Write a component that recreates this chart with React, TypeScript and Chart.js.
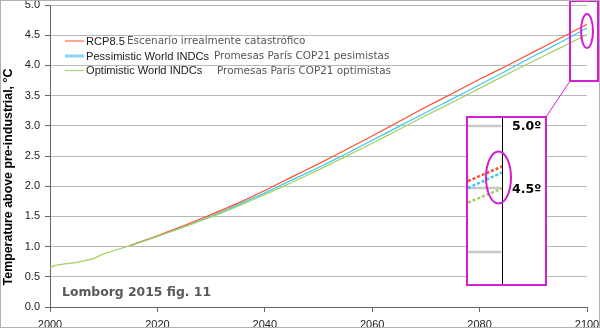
import React, { useEffect, useRef } from "react";
import { Chart, registerables } from "chart.js";
Chart.register(...registerables);

const greenYears = [2000, 2001, 2005, 2008, 2010, 2015, 2020, 2025, 2030, 2035, 2040, 2045, 2050, 2055, 2060, 2065, 2070, 2075, 2080, 2085, 2090, 2095, 2100];
const greenValues = [0.65, 0.69, 0.74, 0.8, 0.88, 1.02, 1.17, 1.33, 1.49, 1.67, 1.86, 2.06, 2.27, 2.49, 2.71, 2.94, 3.17, 3.39, 3.62, 3.85, 4.07, 4.29, 4.51];

const scenarioYears = [2015, 2020, 2025, 2030, 2035, 2040, 2045, 2050, 2055, 2060, 2065, 2070, 2075, 2080, 2085, 2090, 2095, 2100];
const redValues = [1.02, 1.18, 1.35, 1.53, 1.72, 1.93, 2.15, 2.37, 2.6, 2.83, 3.07, 3.31, 3.54, 3.77, 3.99, 4.22, 4.45, 4.68];
const blueValues = [1.02, 1.17, 1.33, 1.5, 1.69, 1.89, 2.1, 2.31, 2.53, 2.76, 2.99, 3.22, 3.45, 3.68, 3.91, 4.15, 4.38, 4.62];

const seriesNames = ["RCP8.5", "Pessimistic World INDCs", "Optimistic World INDCs"];
const seriesNotes = ["Escenario irrealmente catastrófico", "Promesas París COP21 pesimistas", "Promesas París COP21 optimistas"];
const seriesColors = ["#ff4d2e", "#3cc8f2", "#9fd060"];
const legendLineColors = ["#ff6a4e", "#86d8f4", "#a8d47a"];

const yTitle = "Temperature above pre-industrial, °C";
const sourceNote = "Lomborg 2015 fig. 11";
const insetLabels = ["5.0º", "4.5º"];

const MAGENTA = "#d21fd2";

const decorPlugin = {
  id: "decor",
  afterDatasetsDraw(chart: any) {
    const ctx = chart.ctx as CanvasRenderingContext2D;
    ctx.save();
    // legend
    const rows = [41, 56, 70.5];
    const noteX = [127, 214, 217];
    rows.forEach((y, i) => {
      ctx.beginPath();
      ctx.strokeStyle = legendLineColors[i];
      ctx.lineWidth = i === 1 ? 3 : 1.2;
      ctx.moveTo(65, y);
      ctx.lineTo(84, y);
      ctx.stroke();
      ctx.fillStyle = "#1a1a1a";
      ctx.font = "11.1px 'Liberation Sans', Arial, sans-serif";
      ctx.textBaseline = "middle";
      ctx.textAlign = "left";
      ctx.fillText(seriesNames[i], 86, y + 0.5);
      ctx.fillStyle = "#555";
      ctx.font = "10.4px 'DejaVu Sans', Verdana, sans-serif";
      ctx.fillText(seriesNotes[i], noteX[i], y + 0.5);
    });
    // source note
    ctx.fillStyle = "#595959";
    ctx.font = "bold 12.4px 'DejaVu Sans', Verdana, sans-serif";
    ctx.fillText(sourceNote, 62, 293);

    // y title
    ctx.save();
    ctx.translate(9, 177);
    ctx.rotate(-Math.PI / 2);
    ctx.textAlign = "center";
    ctx.fillStyle = "#000";
    ctx.font = "bold 12.4px 'Liberation Sans', Arial, sans-serif";
    ctx.fillText(yTitle, 0, 0);
    ctx.restore();

    // inset
    const ix0 = 467, ix1 = 546, iy0 = 117, iy1 = 285;
    ctx.fillStyle = "#fff";
    ctx.fillRect(ix0, iy0, ix1 - ix0, iy1 - iy0);
    // gray stubs
    ctx.strokeStyle = "#c8c8c8";
    ctx.lineWidth = 2.5;
    [126, 188, 252].forEach((y) => {
      ctx.beginPath();
      ctx.moveTo(ix0 + 1, y);
      ctx.lineTo(501, y);
      ctx.stroke();
    });
    // dashed colored lines
    const insetLines = [
      [181, 166.5],
      [188, 172.5],
      [202.5, 188.5],
    ];
    ctx.setLineDash([3, 2]);
    ctx.lineWidth = 2.5;
    insetLines.forEach((l, i) => {
      ctx.strokeStyle = seriesColors[i];
      ctx.beginPath();
      ctx.moveTo(ix0 + 1, l[0]);
      ctx.lineTo(502, l[1]);
      ctx.stroke();
    });
    ctx.setLineDash([]);
    // black vertical line
    ctx.strokeStyle = "#000";
    ctx.lineWidth = 1;
    ctx.beginPath();
    ctx.moveTo(502.5, iy0);
    ctx.lineTo(502.5, iy1);
    ctx.stroke();
    // ellipse
    ctx.strokeStyle = MAGENTA;
    ctx.lineWidth = 2;
    ctx.beginPath();
    ctx.ellipse(498.5, 177.5, 12.5, 26, 0, 0, Math.PI * 2);
    ctx.stroke();
    // labels
    ctx.fillStyle = "#000";
    ctx.font = "bold 12.5px 'DejaVu Sans', Verdana, sans-serif";
    ctx.textAlign = "left";
    ctx.textBaseline = "middle";
    ctx.fillText(insetLabels[0], 512, 127);
    ctx.fillText(insetLabels[1], 512, 190);
    // inset frame
    ctx.strokeStyle = MAGENTA;
    ctx.lineWidth = 2;
    ctx.strokeRect(ix0, iy0, ix1 - ix0, iy1 - iy0);
    // connector
    ctx.lineWidth = 1;
    ctx.beginPath();
    ctx.moveTo(ix1, iy0);
    ctx.lineTo(570, 81);
    ctx.stroke();
    // top-right frame
    ctx.lineWidth = 2;
    ctx.strokeRect(570, 1, 28, 80);
    ctx.beginPath();
    ctx.ellipse(587, 31, 6, 17, 0, 0, Math.PI * 2);
    ctx.stroke();
    ctx.restore();
  },
  afterDraw(chart: any) {
    const ctx = chart.ctx as CanvasRenderingContext2D;
    ctx.save();
    ctx.strokeStyle = "#b0b0b0";
    ctx.lineWidth = 1;
    ctx.strokeRect(0.5, 0.5, 599, 327);
    ctx.restore();
  },
};

export default function App() {
  const ref = useRef<HTMLCanvasElement | null>(null);
  useEffect(() => {
    if (!ref.current) return;
    const mk = (xs: number[], ys: number[]) => xs.map((x, i) => ({ x, y: ys[i] }));
    const chart = new Chart(ref.current, {
      type: "line",
      data: {
        datasets: [
          { label: seriesNames[2], data: mk(greenYears, greenValues), borderColor: seriesColors[2], borderWidth: 1.2, pointRadius: 0, tension: 0.2, fill: false },
          { label: seriesNames[0], data: mk(scenarioYears, redValues), borderColor: seriesColors[0], borderWidth: 1.2, pointRadius: 0, tension: 0.2, fill: false },
          { label: seriesNames[1], data: mk(scenarioYears, blueValues), borderColor: seriesColors[1], borderWidth: 1.2, pointRadius: 0, tension: 0.2, fill: false },
        ],
      },
      options: {
        responsive: false,
        animation: false,
        devicePixelRatio: 1,
        layout: { padding: { top: 5, right: 13, left: 0, bottom: 0 } },
        plugins: { legend: { display: false }, tooltip: { enabled: false } },
        scales: {
          x: {
            type: "linear",
            min: 2000,
            max: 2100,
            ticks: { stepSize: 20, color: "#222", font: { family: "'Liberation Sans', Arial, sans-serif", size: 11 }, padding: 6, maxRotation: 0, callback: (v: any) => String(v) },
            grid: { drawOnChartArea: false, drawTicks: true, tickLength: 5, tickColor: "#666" },
            border: { color: "#666" },
            afterFit: (s: any) => { s.height = 21; s.paddingLeft = 0; s.paddingRight = 0; },
          },
          y: {
            min: 0,
            max: 5,
            ticks: { stepSize: 0.5, color: "#222", font: { family: "'Liberation Sans', Arial, sans-serif", size: 11 }, padding: 5, callback: (v: any) => Number(v).toFixed(1) },
            grid: { color: "#b8b8b8", tickLength: 5, tickColor: "#666" },
            border: { color: "#666" },
            afterFit: (s: any) => { s.width = 50; s.paddingTop = 0; s.paddingBottom = 0; },
          },
        },
      },
      plugins: [decorPlugin],
    } as any);
    return () => chart.destroy();
  }, []);
  return (
    <div style={{ position: "fixed", left: 0, top: 0, width: 600, height: 328, background: "#fff" }}>
      <canvas ref={ref} width={600} height={328} style={{ display: "block" }} />
    </div>
  );
}
